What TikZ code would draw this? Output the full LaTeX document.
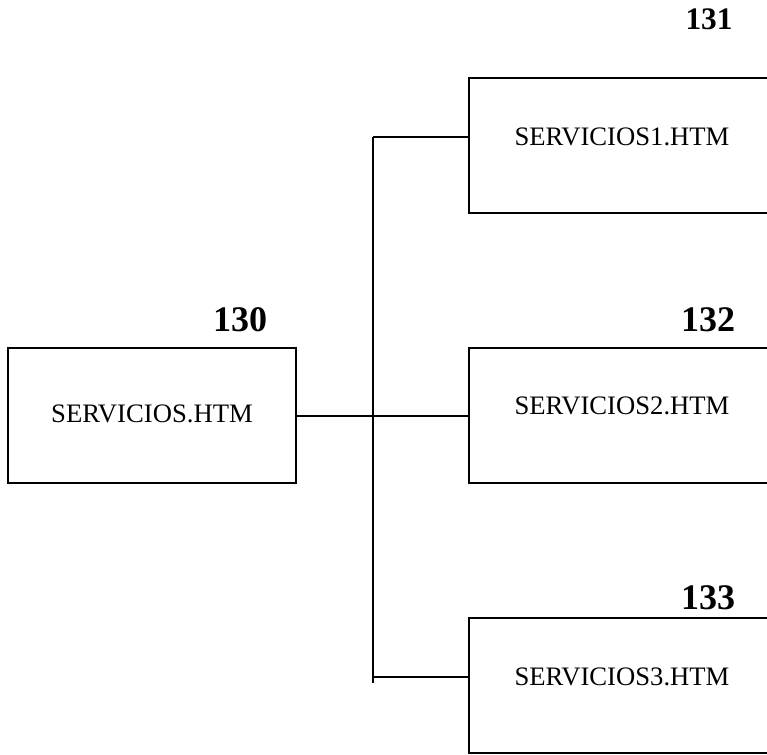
\documentclass[tikz,border=0pt]{standalone}
\usepackage{fontspec}
\setmainfont{Liberation Serif}
\begin{document}
\begin{tikzpicture}[x=0.75pt,y=-0.75pt,
  box/.style={draw,line width=1pt,minimum height=101.25pt,inner sep=0pt},
  lbox/.style={box,minimum width=216pt},
  rbox/.style={box,minimum width=240pt},
  txt/.style={font=\fontsize{20}{23}\selectfont,inner sep=0pt},
  num/.style={font=\fontsize{27}{30}\selectfont\bfseries,inner sep=0pt},
  conn/.style={line width=1pt}]
\useasboundingbox (0,0) rectangle (767,754);
\clip (0,0) rectangle (767,754);
% boxes
\node[lbox] (b0) at (152,415.5) {};
\node[rbox] (b1) at (629,145.5) {};
\node[rbox] (b2) at (629,415.5) {};
\node[rbox] (b3) at (629,685.5) {};
% texts
\node[txt] (t0) at (152,414) {SERVICIOS.HTM};
\node[txt] (t1) at (622,137) {SERVICIOS1.HTM};
\node[txt] (t2) at (622,406) {SERVICIOS2.HTM};
\node[txt] (t3) at (622,677) {SERVICIOS3.HTM};
% numbers
\node[num] (n0) at (240,320) {130};
\node[num,font=\fontsize{23.5}{26}\selectfont\bfseries] (n1) at (709,19) {131};
\node[num] (n2) at (708,320) {132};
\node[num] (n3) at (708,598) {133};
% connectors
\coordinate (jm) at (373,416);
\coordinate (jt) at (373,137);
\coordinate (jb) at (373,677);
\coordinate (je) at (373,683);
\coordinate (e1) at (b1.west |- jt);
\coordinate (e2) at (b2.west |- jm);
\coordinate (e3) at (b3.west |- jb);
\coordinate (e0) at (b0.east |- jm);
\draw[conn] (jt) -- (je);
\draw[conn] (jt) -- (e1);
\draw[conn] (e0) -- (e2);
\draw[conn] (jb) -- (e3);
\end{tikzpicture}
\end{document}
